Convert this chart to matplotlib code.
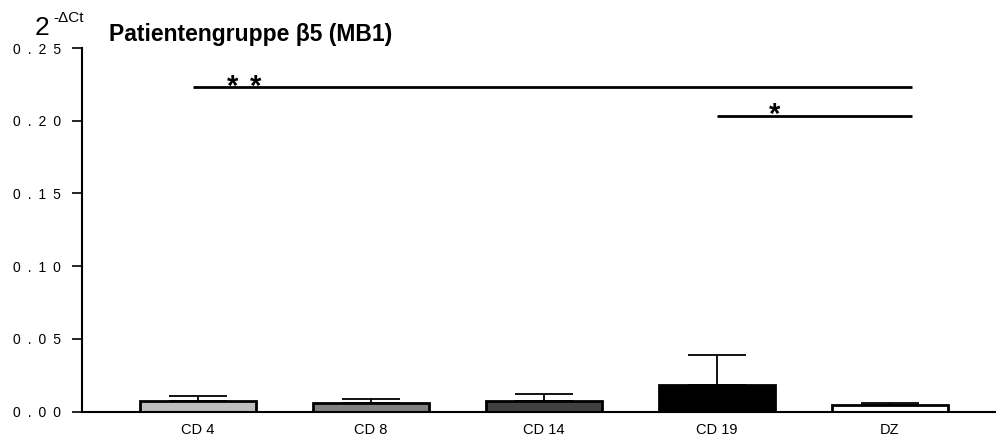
import matplotlib
matplotlib.use("Agg")
import matplotlib.pyplot as plt

plt.rcParams['font.family'] = ['Liberation Sans', 'DejaVu Sans']

categories = ["CD 4", "CD 8", "CD 14", "CD 19", "DZ"]
means = [0.0076, 0.0057, 0.0073, 0.0183, 0.0043]
errors = [0.0030, 0.0028, 0.0051, 0.0207, 0.0017]
colors = ["#bfbfbf", "#808080", "#404040", "#000000", "#ffffff"]
yticks = [0.00, 0.05, 0.10, 0.15, 0.20, 0.25]
ytick_labels = ["0\u2002.\u20020\u20020", "0\u2002.\u20020\u20025", "0\u2002.\u20021\u20020",
                "0\u2002.\u20021\u20025", "0\u2002.\u20022\u20020", "0\u2002.\u20022\u20025"]
sig_lines = [(-0.03, 4.13, 0.2230), (3.0, 4.13, 0.2031)]
sig_stars = [(0.202, 0.218), (0.33, 0.218), (3.335, 0.1987)]

fig = plt.figure(figsize=(9.96, 4.37), dpi=100)
ax = fig.add_axes([82/996, (437-411.7)/437, 1 - 82/996, (411.7-48)/437])

x = list(range(len(categories)))
ax.errorbar(x, means, yerr=[[0]*len(errors), errors], fmt='none', ecolor='black',
            elinewidth=1.3, capsize=21, capthick=1.3, zorder=1)
ax.bar(x, means, width=0.67, color=colors, edgecolor='black', linewidth=2, zorder=2)

ax.set_xlim(-0.6705, 4.613)
ax.set_ylim(0, 0.25)
ax.set_yticks(yticks)
ax.set_yticklabels(ytick_labels, fontsize=10)
ax.set_xticks(x)
ax.set_xticklabels(categories, fontsize=10.5)
ax.tick_params(axis='x', length=0, pad=8)
ax.tick_params(axis='y', length=7, width=1.2, pad=8, direction='out')
for s in ['top', 'right']:
    ax.spines[s].set_visible(False)
for s in ['left', 'bottom']:
    ax.spines[s].set_linewidth(1.5)

for x1, x2, yl in sig_lines:
    ax.plot([x1, x2], [yl, yl], color='black', lw=2, clip_on=False, solid_capstyle='butt')
for sx, sy in sig_stars:
    ax.text(sx, sy, "*", ha='center', va='baseline', fontsize=21, fontweight='bold')

fig.text(35/996, 1 - 35/437, "2", fontsize=19, ha='left', va='baseline')
fig.text(53/996, 1 - 22/437, "-ΔCt", fontsize=11, ha='left', va='baseline')
fig.text(109/996, 1 - 41/437, "Patientengruppe β5 (MB1)", fontsize=16.5,
         fontweight='bold', ha='left', va='baseline')
fig.text(2/996, 1 + 3/437, "g", fontsize=14, ha='left', va='bottom')

fig.savefig("out.png", dpi=100)
